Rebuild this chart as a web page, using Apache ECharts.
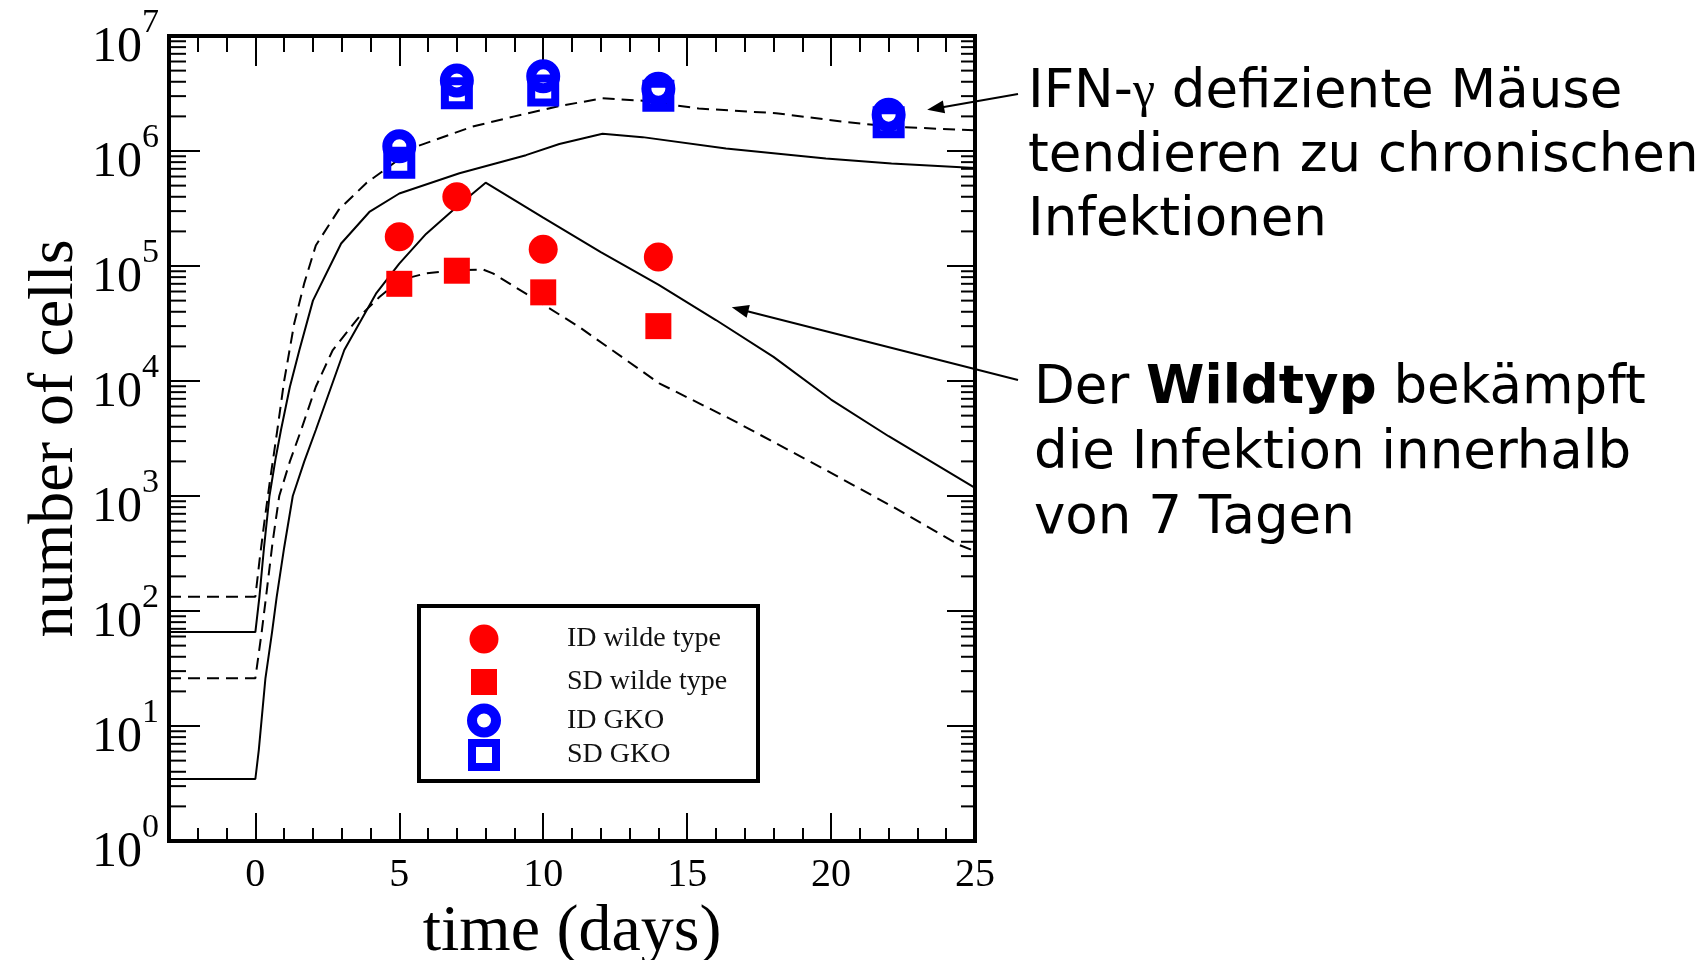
<!DOCTYPE html>
<html>
<head>
<meta charset="utf-8">
<script src="https://cdn.jsdelivr.net/npm/echarts@6/dist/echarts.min.js"></script>
<style>
html, body { margin: 0; padding: 0; background: #fff; }
#chart { width: 1706px; height: 960px; }
</style>
</head>
<body>
<div id="chart"></div>
<script>
// ---------------- data ----------------
const X_MIN = -3, X_MAX = 25;
const Y_MIN = 1, Y_MAX = 1e7;
const xTickLabels = [0, 5, 10, 15, 20, 25];

// measured points
const idWildDays  = [5, 7, 10, 14];
const idWildCells = [1.8e5, 4.0e5, 1.4e5, 1.2e5];
const sdWildDays  = [5, 7, 10, 14];
const sdWildCells = [7.0e4, 9.1e4, 5.9e4, 3.0e4];
const idGkoDays   = [5, 7, 10, 14, 22];
const idGkoCells  = [1.1e6, 4.1e6, 4.46e6, 3.48e6, 2.07e6];
const sdGkoDays   = [5, 7, 10, 14, 22];
const sdGkoCells  = [7.9e5, 3.18e6, 3.35e6, 3.03e6, 1.78e6];

// model curves
const gkoUpperDays  = [-3, 0, 0.15, 0.3, 0.5, 0.75, 1.0, 1.35, 1.7, 2.1, 2.9, 3.85, 5.0, 5.58, 7.55, 9.0, 10.56, 12.06, 13.45, 15.4, 18.09, 20.4, 22.1, 25];
const gkoUpperCells = [133, 133, 282, 562, 1320, 3550, 1.0e4, 3.16e4, 7.1e4, 1.51e5, 3.09e5, 5.25e5, 8.5e5, 1.09e6, 1.63e6, 2.0e6, 2.46e6, 2.87e6, 2.74e6, 2.34e6, 2.13e6, 1.80e6, 1.63e6, 1.51e6];

const gkoLowerDays  = [-3, 0, 0.14, 0.3, 0.49, 0.7, 0.89, 1.2, 1.53, 2.0, 2.98, 3.96, 5.0, 7.09, 9.4, 10.56, 12.06, 13.45, 16.35, 19.82, 22.1, 25];
const gkoLowerCells = [65.6, 65.6, 132, 355, 1000, 2090, 3750, 8910, 1.86e4, 5.0e4, 1.57e5, 2.95e5, 4.27e5, 6.4e5, 9.2e5, 1.15e6, 1.41e6, 1.32e6, 1.05e6, 8.6e5, 7.8e5, 7.1e5];

const wtUpperDays  = [-3, 0, 0.12, 0.35, 0.58, 0.74, 1.0, 1.3, 1.7, 2.1, 3.09, 4.19, 5.0, 5.93, 7.0, 8.0, 10, 12, 14, 16, 18, 20, 22, 25];
const wtUpperCells = [3.46, 3.46, 6.2, 26, 65.6, 132, 355, 1000, 2000, 3750, 1.86e4, 5.75e4, 1.05e5, 1.9e5, 3.28e5, 5.3e5, 2.63e5, 1.32e5, 6.9e4, 3.39e4, 1.62e4, 6900, 3310, 1175];

const wtLowerDays  = [-3, 0, 0.22, 0.37, 0.6, 0.83, 1.2, 1.59, 2.1, 2.69, 3.61, 4.31, 5.03, 5.93, 7.0, 7.9, 8.25, 9.4, 11.25, 14.03, 16.58, 19.82, 22.14, 24.45, 25];
const wtLowerCells = [26, 26, 65.6, 132, 398, 1000, 2000, 3750, 8910, 1.86e4, 3.63e4, 5.37e4, 7.55e4, 8.63e4, 9.2e4, 9.33e4, 8.63e4, 5.75e4, 2.95e4, 9550, 4570, 1680, 807, 375, 331];

const legendNames = ['ID wilde type', 'SD wilde type', 'ID GKO', 'SD GKO'];

// annotation targets (data space)
const arrow1Tip = [23.34, 2.28e6];
const arrow2Tip = [16.55, 4.38e4];

// ---------------- layout / style ----------------
const SERIF = '"Liberation Serif", "Times New Roman", serif';
const SANS = '"DejaVu Sans", Verdana, sans-serif';
const RED = '#ff0000';
const BLUE = '#0000ff';
const GRID = { left: 169, top: 36, width: 806, height: 805 };
const TICK_STYLE = { color: '#000', width: 2 };
const LEG_SYMBOL_X = 484;
const LEG_TEXT_X = 567;
const LEG_ROWS = [639, 681, 718, 753];
const LEG_SIZES = [29, 26, 24, 24];
const LEG_BORDERS = [0, 0, 10, 8];

const yMinorTickValues = [];
for (let k = 0; k < 7; k++) {
  for (let m = 2; m <= 9; m++) yMinorTickValues.push(m * Math.pow(10, k));
}

const pairs = (xs, ys) => xs.map((x, i) => [x, ys[i]]);

function curve(name, xs, ys, dashed) {
  return {
    name: name, type: 'line', data: pairs(xs, ys), symbol: 'none', smooth: false,
    silent: true, z: 3,
    lineStyle: { color: '#000', width: 2, opacity: 1, type: dashed ? [12, 7] : 'solid' }
  };
}

const chart = echarts.init(document.getElementById('chart'));

const legendItemStyles = [
  { icon: 'circle', itemStyle: { color: RED, opacity: 1, borderWidth: 0 } },
  { icon: 'rect', itemStyle: { color: RED, opacity: 1, borderWidth: 0 } },
  { icon: 'circle', itemStyle: { color: 'rgba(0,0,0,0)', opacity: 1, borderColor: BLUE, borderWidth: 10 } },
  { icon: 'rect', itemStyle: { color: 'rgba(0,0,0,0)', opacity: 1, borderColor: BLUE, borderWidth: 8 } }
];

const legends = legendNames.map((name, i) => {
  const s = LEG_SIZES[i];
  const bw = LEG_BORDERS[i];
  return {
    show: true,
    left: LEG_SYMBOL_X - s / 2 - bw / 2,
    top: LEG_ROWS[i] - s / 2 - bw / 4,
    padding: 0,
    itemWidth: s,
    itemHeight: s,
    selectedMode: false,
    orient: 'vertical',
    z: 6,
    data: [Object.assign({ name: name }, legendItemStyles[i])],
    textStyle: {
      fontFamily: SERIF, fontSize: 28, color: '#111',
      padding: [0, 0, 0, LEG_TEXT_X - (LEG_SYMBOL_X + s / 2 + 5)]
    }
  };
});

const option = {
  animation: false,
  backgroundColor: '#fff',
  grid: Object.assign({
    show: true, borderColor: '#000', borderWidth: 4, backgroundColor: 'rgba(0,0,0,0)',
    containLabel: false, outerBoundsMode: 'none'
  }, GRID),
  legend: legends,
  xAxis: [
    {
      type: 'value', min: X_MIN, max: X_MAX, position: 'bottom',
      name: 'time (days)', nameLocation: 'middle', nameGap: 54,
      nameTextStyle: { fontFamily: SERIF, fontSize: 66, color: '#000' },
      axisLine: { show: false, onZero: false },
      axisTick: { show: true, inside: true, length: 28, lineStyle: TICK_STYLE },
      axisLabel: {
        margin: 14, fontFamily: SERIF, fontSize: 40, color: '#000',
        formatter: v => (xTickLabels.indexOf(v) >= 0 ? String(v) : '')
      },
      splitLine: { show: false }
    },
    {
      type: 'value', min: X_MIN, max: X_MAX, position: 'top',
      axisLine: { show: false, onZero: false },
      axisTick: { show: true, inside: true, length: 30, lineStyle: TICK_STYLE },
      axisLabel: { show: false }, splitLine: { show: false }
    },
    {
      type: 'value', min: X_MIN, max: X_MAX, interval: 1, position: 'bottom',
      axisLine: { show: false, onZero: false },
      axisTick: { show: true, inside: true, length: 13, lineStyle: TICK_STYLE },
      axisLabel: { show: false }, splitLine: { show: false }
    },
    {
      type: 'value', min: X_MIN, max: X_MAX, interval: 1, position: 'top',
      axisLine: { show: false, onZero: false },
      axisTick: { show: true, inside: true, length: 16, lineStyle: TICK_STYLE },
      axisLabel: { show: false }, splitLine: { show: false }
    }
  ],
  yAxis: [
    {
      type: 'log', logBase: 10, min: Y_MIN, max: Y_MAX, position: 'left',
      name: 'number of cells', nameLocation: 'middle', nameGap: 82,
      nameTextStyle: { fontFamily: SERIF, fontSize: 64, color: '#000' },
      axisLine: { show: false, onZero: false },
      axisTick: { show: true, inside: true, length: 31, lineStyle: TICK_STYLE },
      axisLabel: {
        margin: 10,
        formatter: v => '{b|10}{s|' + Math.round(Math.log10(v)) + '}',
        rich: {
          b: { fontFamily: SERIF, fontSize: 50, color: '#000', padding: [24, 0, 0, 0] },
          s: { fontFamily: SERIF, fontSize: 34, color: '#000', padding: [0, 0, 26, 0] }
        }
      },
      splitLine: { show: false }, minorTick: { show: false }
    },
    {
      type: 'log', logBase: 10, min: Y_MIN, max: Y_MAX, position: 'right',
      axisLine: { show: false, onZero: false },
      axisTick: { show: true, inside: true, length: 28, lineStyle: TICK_STYLE },
      axisLabel: { show: false }, splitLine: { show: false }
    }
  ],
  series: [
    curve('GKO model (dashed)', gkoUpperDays, gkoUpperCells, true),
    curve('GKO model', gkoLowerDays, gkoLowerCells, false),
    curve('WT model', wtUpperDays, wtUpperCells, false),
    curve('WT model (dashed)', wtLowerDays, wtLowerCells, true),
    {
      name: legendNames[0], type: 'scatter', data: pairs(idWildDays, idWildCells),
      symbol: 'circle', symbolSize: 29, z: 5, itemStyle: { color: RED, opacity: 1 }
    },
    {
      name: legendNames[1], type: 'scatter', data: pairs(sdWildDays, sdWildCells),
      symbol: 'rect', symbolSize: 26, z: 5, itemStyle: { color: RED, opacity: 1 }
    },
    {
      name: legendNames[2], type: 'scatter', data: pairs(idGkoDays, idGkoCells),
      symbol: 'circle', symbolSize: 24, z: 5,
      itemStyle: { color: 'rgba(0,0,0,0)', opacity: 1, borderColor: BLUE, borderWidth: 10 }
    },
    {
      name: legendNames[3], type: 'scatter', data: pairs(sdGkoDays, sdGkoCells),
      symbol: 'rect', symbolSize: 24, z: 5,
      itemStyle: { color: 'rgba(0,0,0,0)', opacity: 1, borderColor: BLUE, borderWidth: 8 }
    },
    {
      name: 'minor y ticks', type: 'custom', silent: true, clip: false, z: 2,
      data: yMinorTickValues.map(v => [X_MIN, v]),
      encode: { x: 0, y: 1 },
      renderItem: function (params, api) {
        const v = api.value(1);
        const pL = api.coord([X_MIN, v]);
        const pR = api.coord([X_MAX, v]);
        const st = { stroke: '#000', lineWidth: 2 };
        return {
          type: 'group',
          children: [
            { type: 'line', shape: { x1: pL[0], y1: pL[1], x2: pL[0] + 17, y2: pL[1] }, style: st },
            { type: 'line', shape: { x1: pR[0], y1: pR[1], x2: pR[0] - 14, y2: pR[1] }, style: st }
          ]
        };
      }
    }
  ]
};

chart.setOption(option);

function arrowElements(id, tail, tip) {
  const dx = tip[0] - tail[0], dy = tip[1] - tail[1];
  const len = Math.hypot(dx, dy);
  const ux = dx / len, uy = dy / len, nx = -uy, ny = ux;
  const L = 17, W = 6.5;
  const bx = tip[0] - ux * L, by = tip[1] - uy * L;
  return [
    { type: 'line', id: id + 'L', z: 20, silent: true,
      shape: { x1: tail[0], y1: tail[1], x2: bx + ux * 3, y2: by + uy * 3 },
      style: { stroke: '#000', lineWidth: 2 } },
    { type: 'polygon', id: id + 'H', z: 20, silent: true,
      shape: { points: [[tip[0], tip[1]], [bx + nx * W, by + ny * W], [bx - nx * W, by - ny * W]] },
      style: { fill: '#000' } }
  ];
}

const tip1 = chart.convertToPixel({ gridIndex: 0 }, arrow1Tip);
const tip2 = chart.convertToPixel({ gridIndex: 0 }, arrow2Tip);

const graphics = [
  { type: 'rect', id: 'legendBox', z: 1, silent: true,
    shape: { x: 419, y: 606, width: 339, height: 175 },
    style: { fill: '#fff', stroke: '#000', lineWidth: 4 } },
  { type: 'text', id: 'note1', x: 1028, y: 61, z: 20, silent: true,
    style: {
      text: 'IFN-{g|γ} defiziente Mäuse\ntendieren zu chronischen\nInfektionen',
      fontFamily: SANS, fontSize: 53, lineHeight: 64, fill: '#000',
      align: 'left', verticalAlign: 'top',
      rich: { g: { fontFamily: SERIF, fontSize: 50, lineHeight: 64, fill: '#000' } }
    } },
  { type: 'text', id: 'note2', x: 1034, y: 357, z: 20, silent: true,
    style: {
      text: 'Der {b|Wildtyp} bekämpft\ndie Infektion innerhalb\nvon 7 Tagen',
      fontFamily: SANS, fontSize: 53, lineHeight: 65, fill: '#000',
      align: 'left', verticalAlign: 'top',
      rich: { b: { fontFamily: SANS, fontSize: 53, fontWeight: 'bold', lineHeight: 65, fill: '#000' } }
    } }
].concat(arrowElements('a1', [1018, 94], tip1), arrowElements('a2', [1018, 380], tip2));

chart.setOption({ graphic: graphics });
</script>
</body>
</html>
